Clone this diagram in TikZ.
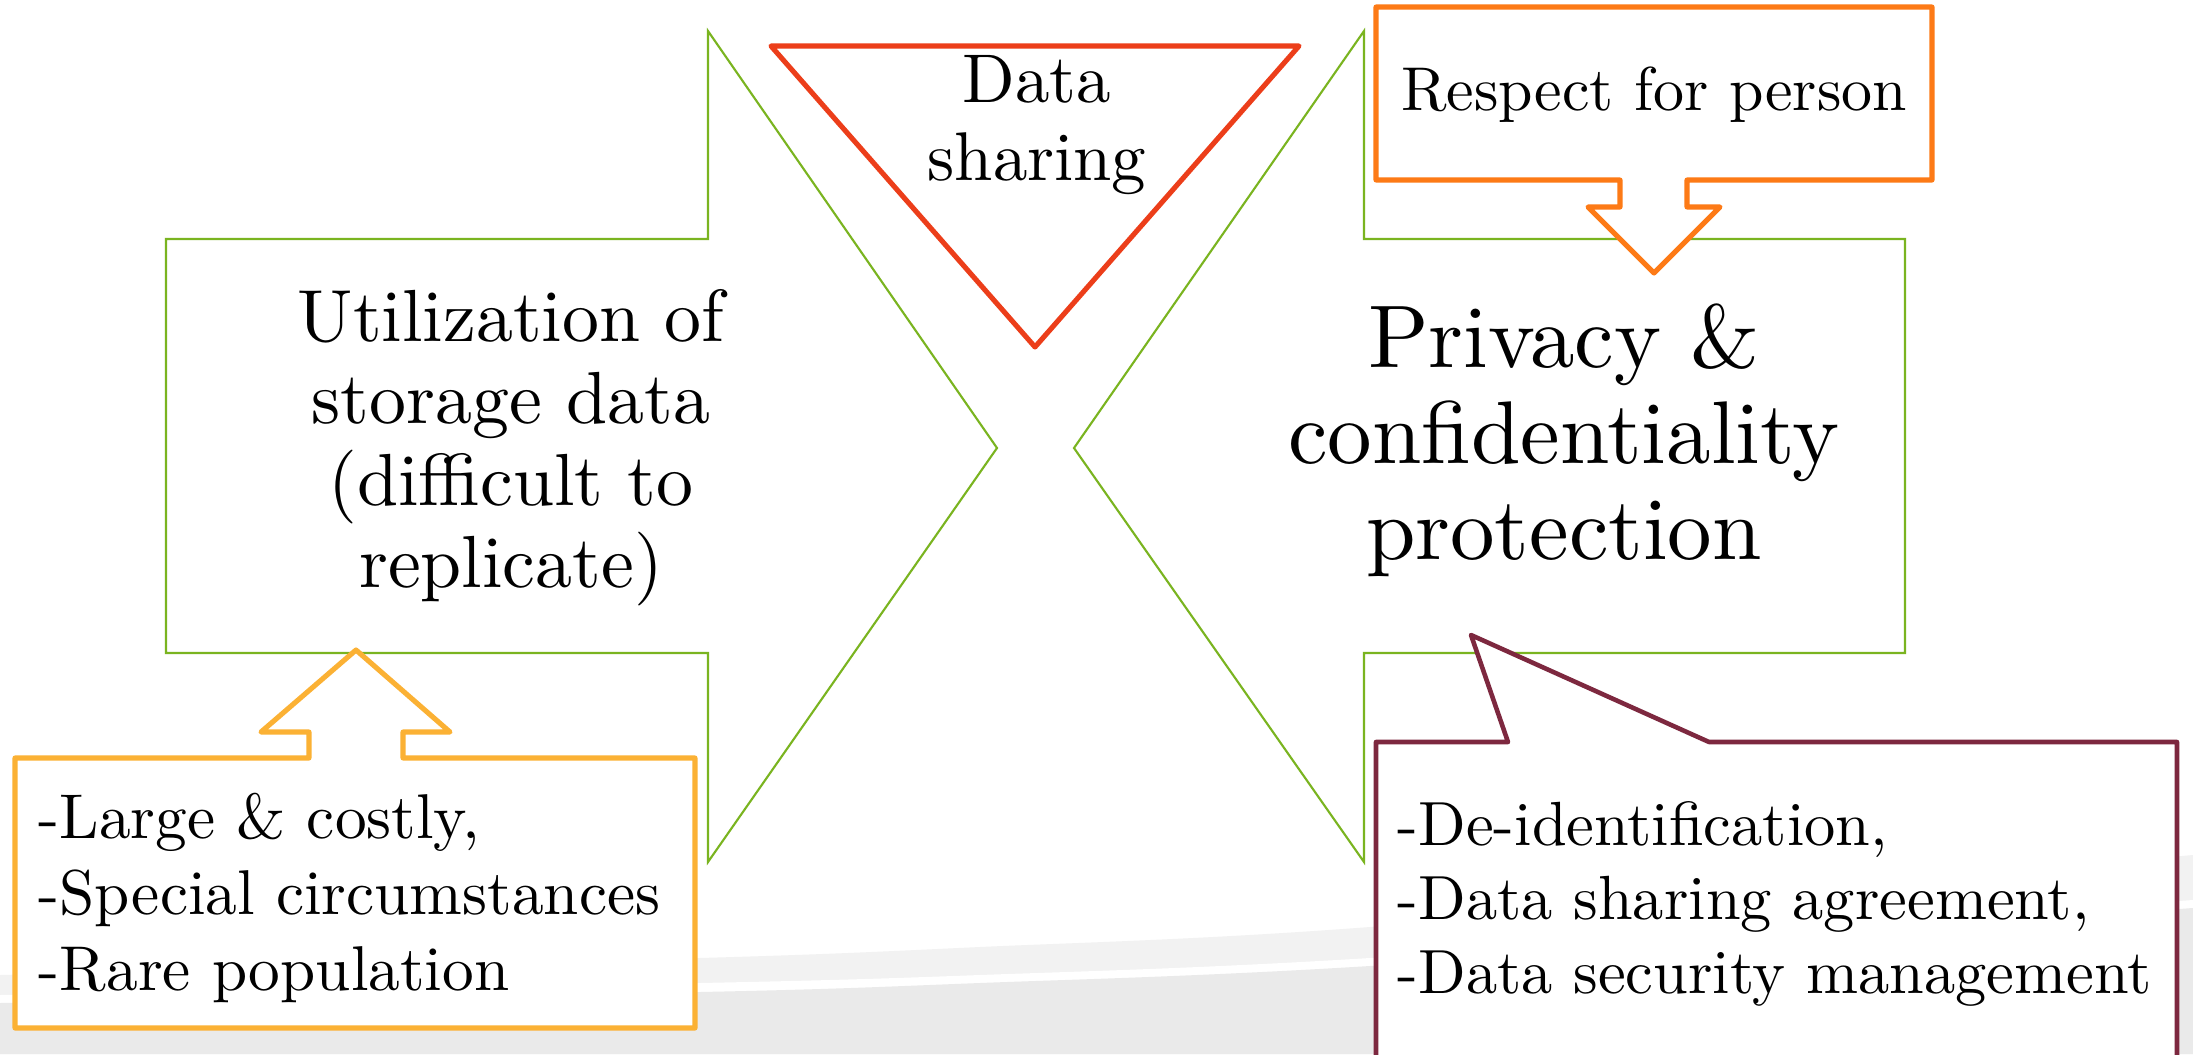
\documentclass[tikz,border=0pt]{standalone}
\usepackage{fontspec}
\setmainfont{lmroman10-regular.otf}
\definecolor{arrowgreen}{RGB}{122,180,32}
\definecolor{sharered}{RGB}{236,62,26}
\definecolor{respectorange}{RGB}{253,122,22}
\definecolor{sourceamber}{RGB}{251,177,52}
\definecolor{guardmaroon}{RGB}{125,40,63}
\definecolor{bglight}{RGB}{242,242,242}
\definecolor{bgdark}{RGB}{234,234,234}
\tikzset{
  bigarrow/.style={draw=arrowgreen, line width=0.6pt, fill=white, line join=miter},
  sharetri/.style={draw=sharered, line width=1.45pt, line join=round},
  callout/.style={fill=white, line width=1.45pt, line join=round},
  maintext/.style={inner sep=0pt, align=center, text=black},
  listtext/.style={inner sep=0pt, align=left, text=black},
}
\begin{document}
\begin{tikzpicture}[x=0.01cm, y=-0.01cm]
\useasboundingbox (0,0) rectangle (2193,1054);
\clip (0,0) rectangle (2193,1054);
\fill[white] (0,0) rectangle (2193,1054);

% soft swoosh along the bottom
\fill[bglight] plot[smooth] coordinates {(0,975) (700,958) (980,947) (1370,927) (2193,855)}
  -- (2193,1054) -- (0,1054) -- cycle;
\fill[white] plot[smooth] coordinates {(0,995) (700,983) (980,975) (1370,958) (2193,900)}
  -- (2193,1054) -- (0,1054) -- cycle;
\fill[bgdark] plot[smooth] coordinates {(0,1003) (700,992) (980,983) (1370,966) (2193,908)}
  -- (2193,1054) -- (0,1054) -- cycle;

% two block arrows pointing at each other
\draw[bigarrow] (166,239) -- (708,239) -- (708,31) -- (997,448) -- (708,862)
  -- (708,653) -- (166,653) -- cycle;
\draw[bigarrow] (1074,448) -- (1364,31) -- (1364,239) -- (1905,239) -- (1905,653)
  -- (1364,653) -- (1364,862) -- cycle;

% data sharing triangle
\draw[sharetri] (771,46) -- (1299,46) -- (1035,347) -- cycle;

% callout with down arrow
\draw[callout, draw=respectorange] (1376,7) -- (1932,7) -- (1932,180) -- (1687,180)
  -- (1687,207) -- (1720,207) -- (1654,273) -- (1588,207) -- (1620,207)
  -- (1620,180) -- (1376,180) -- cycle;

% callout with up arrow
\draw[callout, draw=sourceamber] (15,758) -- (309,758) -- (309,732) -- (261,732)
  -- (356,650) -- (450,732) -- (403,732) -- (403,758) -- (695,758)
  -- (695,1028) -- (15,1028) -- cycle;

% speech callout
\draw[callout, draw=guardmaroon, line width=1.3pt] (1376,742) -- (1508,742) -- (1471,635)
  -- (1709,742) -- (2177,742) -- (2177,1080) -- (1376,1080) -- cycle;

% texts (base anchor of a multi-line node = baseline of its last line)
\node[maintext, anchor=base, font=\fontsize{21}{23.3}\selectfont] (util) at (511,587)
  {Utilization of\\storage data\\(difficult to\\replicate)};
\node[maintext, anchor=base, font=\fontsize{25.3}{27.3}\selectfont] (privacy) at (1564,559)
  {Privacy \&\\confidentiality\\protection};
\node[maintext, anchor=base, font=\fontsize{19.6}{21.9}\selectfont] (share) at (1037,180)
  {Data\\sharing};
\node[maintext, anchor=base, font=\fontsize{17.6}{21}\selectfont] (respect) at (1654,110)
  {Respect for person};
\node[listtext, anchor=base west, font=\fontsize{18}{21.6}\selectfont] (reasons) at (38,990)
  {-Large \& costly,\\-Special circumstances\\-Rare population};
\node[listtext, anchor=base west, font=\fontsize{17.75}{21}\selectfont] (measures) at (1397,993)
  {-De-identification,\\-Data sharing agreement,\\-Data security management};
\end{tikzpicture}
\end{document}
